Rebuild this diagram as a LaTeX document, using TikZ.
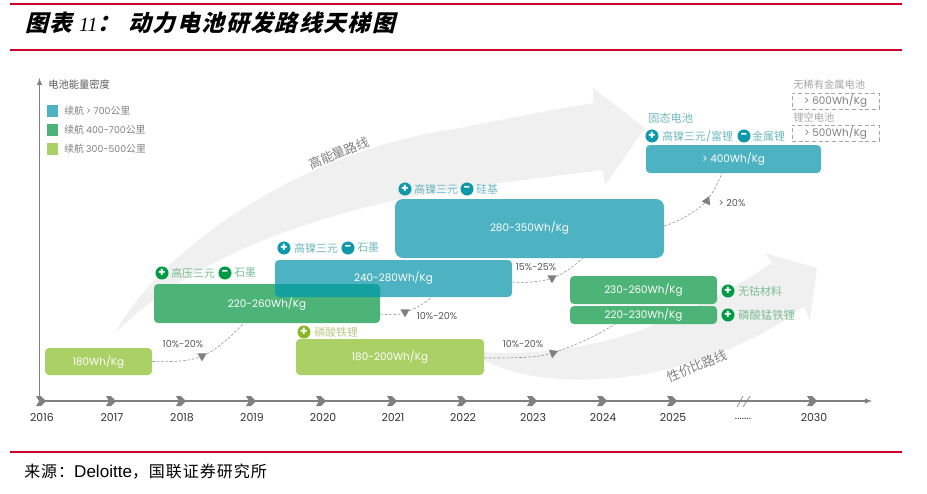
\documentclass[tikz,border=0pt]{standalone}
\usepackage{fontspec}
\usepackage{xcolor}
\usetikzlibrary{shapes.geometric}
\setmainfont{Noto Sans CJK SC}
\newfontfamily\latinf{Poppins}
\newfontfamily\titlecjk{Noto Sans CJK SC}[FakeSlant=0.25,LetterSpace=7]
\newfontfamily\titlelat{Liberation Serif}
\newfontfamily\sourcecjk{Noto Sans CJK SC}[LetterSpace=6]
\newfontfamily\sourcelat{Liberation Sans}
\definecolor{rulered}{HTML}{C8002B}
\definecolor{cellteal}{HTML}{4DB3C3}
\definecolor{cellgreen}{HTML}{4DB478}
\definecolor{celllime}{HTML}{ABD066}
\definecolor{celloverlap}{HTML}{14A09F}
\definecolor{badgeteal}{HTML}{0E98A8}
\definecolor{badgegreen}{HTML}{009A44}
\definecolor{badgelime}{HTML}{8AB825}
\definecolor{axisgrey}{HTML}{808080}
\definecolor{routegrey}{HTML}{F0F0F0}
\definecolor{labelteal}{HTML}{6DB8C0}
\definecolor{labelgreen}{HTML}{7BBD94}
\definecolor{labellime}{HTML}{B8CC85}
\tikzset{
    energybox/.style={rounded corners=3pt,inner sep=0pt,text=white,font=\latinf\fontsize{7.8}{7.8}\selectfont},
    cellsize/.style 2 args={minimum width=#1*.75pt,minimum height=#2*.75pt},
    badge/.style={circle,inner sep=0pt,minimum size=9.8pt,text=white,font=\latinf\bfseries\fontsize{9}{9}\selectfont},
    material/.style={anchor=west,inner sep=0pt,font=\fontsize{8.2}{8.2}\selectfont},
    legendtext/.style={anchor=west,inner sep=0pt,text=axisgrey,font=\fontsize{7.4}{7.4}\selectfont},
    yearlabel/.style={anchor=base,text=black!80,inner sep=0pt,font=\latinf\fontsize{8.2}{8.2}\selectfont},
    gainlabel/.style={text=black!65,inner sep=0pt,font=\latinf\fontsize{7.2}{7.2}\selectfont},
    routelabel/.style={text=axisgrey,inner sep=0pt,rotate=22,font=\fontsize{9.6}{9.6}\selectfont},
    trendline/.style={dash pattern=on 2pt off 1.3pt,axisgrey!85,line width=.45pt},
    trendtip/.style={regular polygon,regular polygon sides=3,fill=axisgrey,inner sep=0pt,minimum size=8pt},
    futurebox/.style={draw=axisgrey!70,densely dashed,line width=.6pt,inner sep=0pt,text=axisgrey,font=\latinf\fontsize{7.8}{7.8}\selectfont}
}
\newcommand{\lat}[1]{{\latinf #1}}
\newcommand{\yeartick}[1]{\fill[axisgrey] (#1-5,396) -- (#1,396) -- (#1+5,401) -- (#1,406) -- (#1-5,406) -- (#1-2,401) -- cycle}
\newcommand{\plusmark}[3]{\node[badge,fill=#1] (#2) at (#3) {+}}
\newcommand{\minusmark}[3]{\node[badge,fill=#1] (#2) at (#3) {-}}

\begin{document}
\begin{tikzpicture}[x=.75pt,y=-.75pt]
    \useasboundingbox (0,0) rectangle (927,493);

    \draw[rulered,line width=1.2pt] (10,4) -- (902,4);
    \draw[rulered,line width=1.2pt] (10,50) -- (902,50);
    \draw[rulered,line width=1.2pt] (10,452) -- (902,452);
    \node[anchor=west,inner sep=0pt,font=\fontsize{17.1}{17.1}\selectfont] (title) at (25,23)
        {\titlecjk\bfseries 图表\hspace{5pt}{\titlelat\mdseries\itshape\fontsize{15}{15}\selectfont 11}\symbol{"FF1A}\hspace{6pt}动力电池研发路线天梯图};
    \node[anchor=west,inner sep=0pt,font=\fontsize{12}{12}\selectfont] (source) at (24,472)
        {\sourcecjk 来源\symbol{"FF1A}{\sourcelat\fontsize{12.8}{12.8}\selectfont Deloitte}\symbol{"FF0C}国联证券研究所};

    \fill[routegrey] (115,333) .. controls (160,250) and (300,150) .. (460,128)
        .. controls (500,120) and (550,110) .. (593,103) -- (593,88) -- (645,128) -- (605,185) -- (603,170)
        .. controls (540,178) and (460,187) .. (395,200) .. controls (320,218) and (200,250) .. (115,333) -- cycle;
    \fill[routegrey] (484,352) .. controls (540,356) and (610,345) .. (660,322)
        .. controls (700,305) and (740,285) .. (772,263) -- (765,253) -- (817,268) -- (810,321) -- (804,306)
        .. controls (770,335) and (700,365) .. (640,375) .. controls (580,384) and (520,380) .. (484,360) -- cycle;
    \node[routelabel] (highroute) at (339,153) {高能量路线};
    \node[routelabel] (costroute) at (697,366) {性价比路线};

    \coordinate (origin) at (39.5,401);
    \coordinate (ytop) at (39.5,78);
    \coordinate (xend) at (872,401);
    \draw[axisgrey,line width=.8pt,-latex] (origin) -- (ytop);
    \draw[axisgrey,line width=.8pt,-latex] (origin) -- (xend);
    \foreach \tx/\lx/\yr in {41/42/2016,111/112/2017,181/182/2018,251/252/2019,321/323/2020,392/393/2021,462/463/2022,532/533/2023,602/603/2024,672/673/2025,812/814/2030}{
        \yeartick{\tx};
        \node[yearlabel] (y\yr) at (\lx,421) {\yr};
    }
    \node[yearlabel] (ydots) at (743,419) {.......};
    \draw[axisgrey,line width=.5pt] (737,407) -- (743,396);
    \draw[axisgrey,line width=.5pt] (743,407) -- (750,396);

    \node[anchor=west,inner sep=0pt,text=black!65,font=\fontsize{7.7}{7.7}\selectfont] (ytitle) at (48,85) {电池能量密度};
    \fill[cellteal] (47,105) rectangle (58,117);
    \fill[cellgreen] (47,124) rectangle (58,136);
    \fill[celllime] (47,143) rectangle (58,155);
    \node[legendtext] (legend1) at (64,111) {续航 {\latinf\fontsize{7}{7}\selectfont > 700}公里};
    \node[legendtext] (legend2) at (64,130) {续航 {\latinf\fontsize{7}{7}\selectfont 400-700}公里};
    \node[legendtext] (legend3) at (64,149) {续航 {\latinf\fontsize{7}{7}\selectfont 300-500}公里};

    \node[energybox,fill=cellteal,cellsize={237}{37}] (e240) at (393.5,278.5) {240-280Wh/Kg};
    \node[energybox,fill=cellgreen,cellsize={226}{39}] (e220) at (267,303.5) {220-260Wh/Kg};
    \begin{scope}
        \clip[rounded corners=3pt] (154,284) rectangle (380,323);
        \fill[celloverlap,rounded corners=3pt] (275,260) rectangle (512,297);
    \end{scope}
    \node[energybox,fill=celllime,cellsize={107}{27}] (e180) at (98.5,361.5) {180Wh/Kg};
    \node[energybox,fill=celllime,cellsize={188}{36}] (e180b) at (390,357) {180-200Wh/Kg};
    \node[energybox,fill=cellteal,rounded corners=6pt,cellsize={269}{59}] (e280) at (529.5,228.5) {280-350Wh/Kg};
    \node[energybox,fill=cellteal,cellsize={175}{28}] (e400) at (733.5,159) {> 400Wh/Kg};
    \node[energybox,fill=cellgreen,cellsize={147}{28}] (e230) at (643.5,290) {230-260Wh/Kg};
    \node[energybox,fill=cellgreen,cellsize={147}{18}] (e220b) at (643.5,315) {220-230Wh/Kg};

    \plusmark{badgegreen}{p1}{162,273};
    \node[material,text=labelgreen] (m1) at (171,273) {高压三元};
    \minusmark{badgegreen}{n1}{225,273};
    \node[material,text=labelgreen] (m2) at (234,273) {石墨};
    \plusmark{badgeteal}{p2}{284,248};
    \node[material,text=labelteal] (m3) at (294,248) {高镍三元};
    \minusmark{badgeteal}{n2}{348,248};
    \node[material,text=labelteal] (m4) at (357,248) {石墨};
    \plusmark{badgeteal}{p3}{405,189};
    \node[material,text=labelteal] (m5) at (414,189) {高镍三元};
    \minusmark{badgeteal}{n3}{467,189};
    \node[material,text=labelteal] (m6) at (476,189) {硅基};
    \plusmark{badgelime}{p4}{304,332};
    \node[material,text=labellime] (m7) at (314,332) {磷酸铁锂};
    \plusmark{badgeteal}{p5}{652,136};
    \node[material,text=labelteal] (m8) at (662,136) {高镍三元\lat{/}富锂};
    \minusmark{badgeteal}{n5}{744,136};
    \node[material,text=labelteal] (m9) at (752,136) {金属锂};
    \node[material,text=labelteal,font=\fontsize{8.4}{8.4}\selectfont] (solid) at (648,118) {固态电池};
    \plusmark{badgegreen}{p6}{728,291};
    \node[material,text=labelgreen] (m10) at (738,291) {无钴材料};
    \plusmark{badgegreen}{p7}{728,315};
    \node[material,text=labelgreen,font=\fontsize{8.5}{8.5}\selectfont] (m11) at (738,315) {磷酸锰铁锂};

    \node[material,text=axisgrey!70,font=\fontsize{7.7}{7.7}\selectfont] (future1) at (793,85) {无稀有金属电池};
    \node[futurebox,cellsize={87}{16}] (e600) at (835.5,101) {> 600Wh/Kg};
    \node[material,text=axisgrey!70,font=\fontsize{7.7}{7.7}\selectfont] (future2) at (793,118) {锂空电池};
    \node[futurebox,cellsize={87}{16}] (e500) at (835.5,133) {> 500Wh/Kg};

    \coordinate (t1) at (243,324);
    \coordinate (t2) at (432,297);
    \coordinate (t3) at (583,258);
    \coordinate (t4) at (615,324);
    \coordinate (t5) at (722,173);
    \node[trendtip,rotate=180] (a1) at (202,356) {};
    \node[trendtip,rotate=180] (a2) at (405,312) {};
    \node[trendtip,rotate=180] (a3) at (552,278) {};
    \node[trendtip,rotate=170] (a4) at (553,353) {};
    \node[trendtip,rotate=215] (a5) at (707,201) {};
    \draw[trendline] (e180.east) .. controls (175,362) and (190,361) .. (a1) .. controls (215,350) and (230,338) .. (t1);
    \draw[trendline] (e220.east |- 0,314) .. controls (390,315) and (398,315) .. (a2) .. controls (415,309) and (425,303) .. (t2);
    \draw[trendline] (e240.east |- 0,282) .. controls (525,283) and (540,282) .. (a3) .. controls (565,273) and (575,265) .. (t3);
    \draw[trendline] (e180b.east |- 0,358) .. controls (510,358) and (535,358) .. (a4) .. controls (575,345) and (595,337) .. (t4);
    \draw[trendline] (e280.east |- 0,226) .. controls (680,221) and (695,212) .. (a5) .. controls (714,190) and (718,183) .. (t5);

    \node[gainlabel] (g1) at (183,344) {10\%-20\%};
    \node[gainlabel] (g2) at (437,316) {10\%-20\%};
    \node[gainlabel] (g3) at (536,267) {15\%-25\%};
    \node[gainlabel] (g4) at (523,344) {10\%-20\%};
    \node[gainlabel] (g5) at (732,203) {> 20\%};
\end{tikzpicture}
\end{document}
